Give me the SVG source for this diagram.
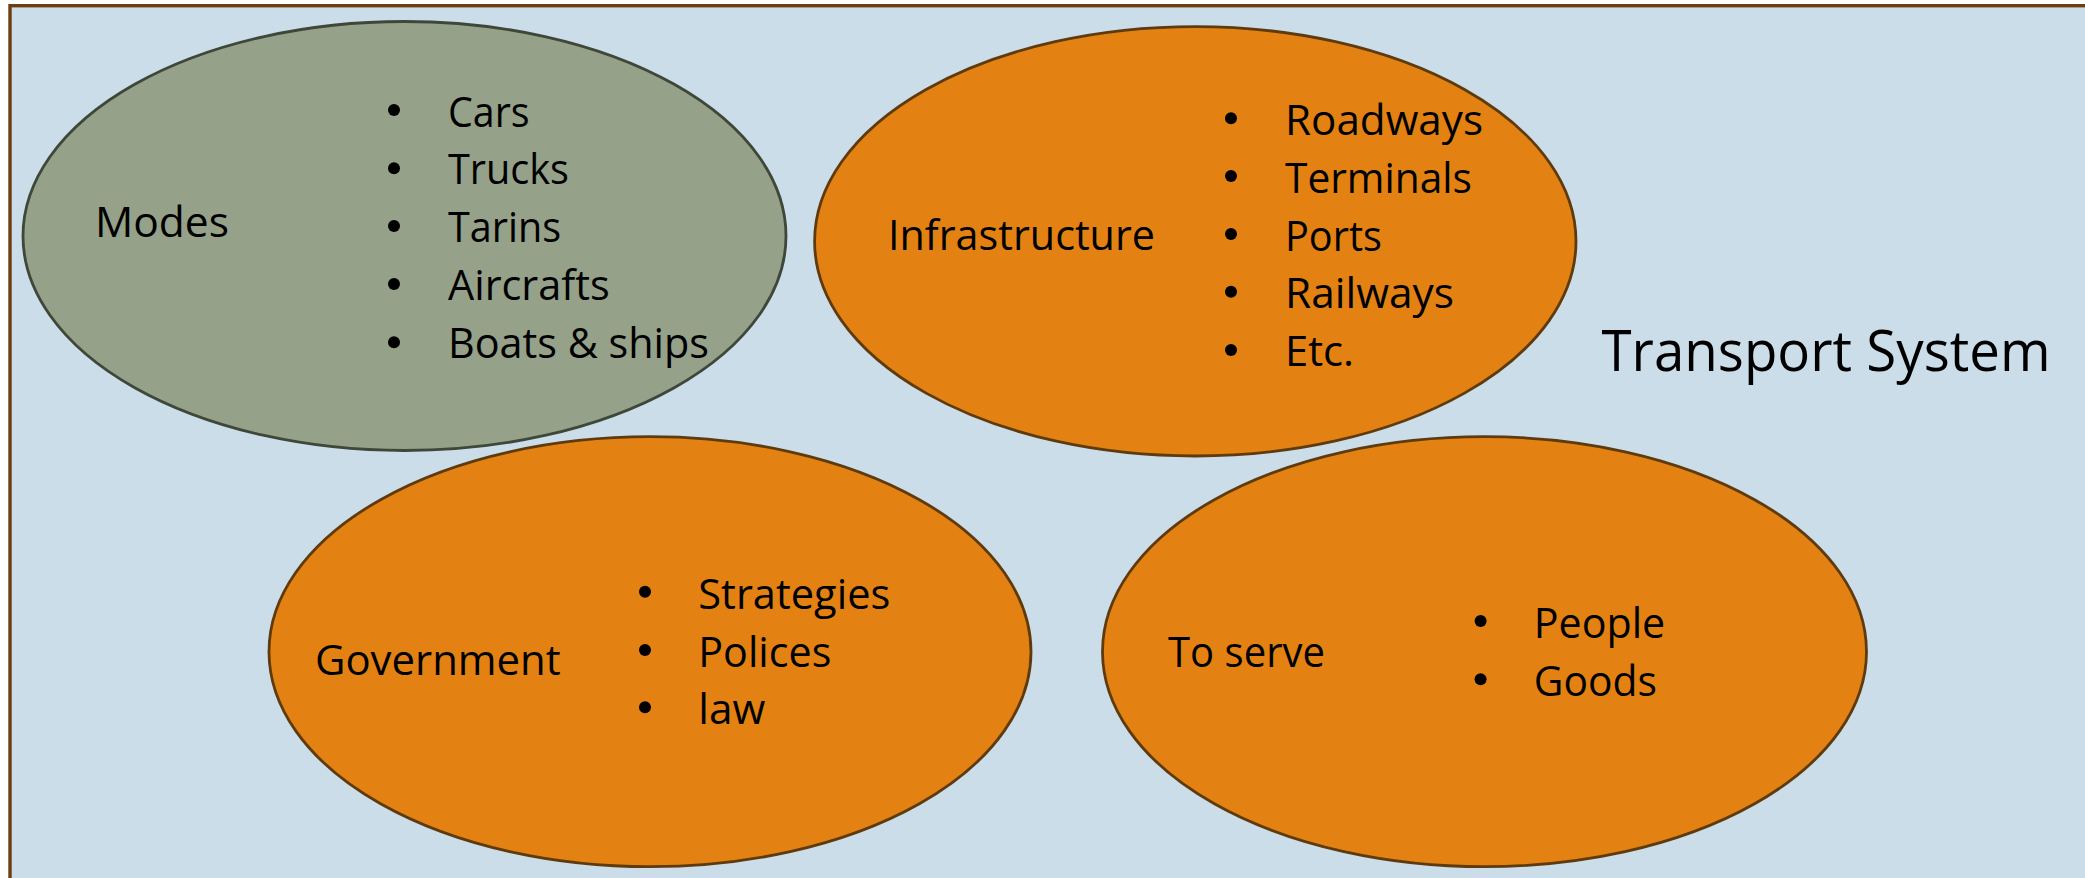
<svg xmlns="http://www.w3.org/2000/svg" width="2085" height="878" viewBox="0 0 2085 878">
<style>
.bg{fill:#CBDDE8;stroke:#6B3F12;stroke-width:3.4}
.orange{fill:#E38212;stroke:#5E3A0C;stroke-width:2.8}
.green{fill:#95A188;stroke:#3E4739;stroke-width:2.8}
text{font-family:"Open Sans","Noto Sans","Liberation Sans",sans-serif;fill:#000}
.t{font-size:42px}
.title{font-size:57px}
.dot{fill:#000}
</style>
<rect width="2085" height="878" fill="#FFFFFF"/>
<rect id="frame" class="bg" x="10" y="5.7" width="2100" height="900"/>
<g id="connectors"></g>
<g id="modes">
<ellipse class="green" cx="404.5" cy="236" rx="381.5" ry="214.5"/>
<text class="t" x="95" y="236.7" textLength="134" lengthAdjust="spacingAndGlyphs">Modes</text>
<circle class="dot" cx="394" cy="110" r="6"/>
<circle class="dot" cx="394" cy="168.3" r="6"/>
<circle class="dot" cx="394" cy="226" r="6"/>
<circle class="dot" cx="394" cy="284" r="6"/>
<circle class="dot" cx="394" cy="342.3" r="6"/>
<text class="t" x="448" y="126.7" textLength="81.6" lengthAdjust="spacingAndGlyphs">Cars</text>
<text class="t" x="448" y="184.3" textLength="121" lengthAdjust="spacingAndGlyphs">Trucks</text>
<text class="t" x="448" y="242.3" textLength="113" lengthAdjust="spacingAndGlyphs">Tarins</text>
<text class="t" x="448" y="300" textLength="161.7" lengthAdjust="spacingAndGlyphs">Aircrafts</text>
<text class="t" x="448" y="358.3" textLength="261" lengthAdjust="spacingAndGlyphs">Boats &amp; ships</text>
</g>
<g id="infrastructure">
<ellipse class="orange" cx="1195.3" cy="241.3" rx="380.7" ry="214.7"/>
<text class="t" x="888" y="250" textLength="267" lengthAdjust="spacingAndGlyphs">Infrastructure</text>
<circle class="dot" cx="1231" cy="118.3" r="6"/>
<circle class="dot" cx="1231" cy="176" r="6"/>
<circle class="dot" cx="1231" cy="234" r="6"/>
<circle class="dot" cx="1231" cy="291.7" r="6"/>
<circle class="dot" cx="1231" cy="350" r="6"/>
<text class="t" x="1285" y="135" textLength="198" lengthAdjust="spacingAndGlyphs">Roadways</text>
<text class="t" x="1285" y="192.7" textLength="187" lengthAdjust="spacingAndGlyphs">Terminals</text>
<text class="t" x="1285" y="250.7" textLength="97" lengthAdjust="spacingAndGlyphs">Ports</text>
<text class="t" x="1285" y="308.3" textLength="169" lengthAdjust="spacingAndGlyphs">Railways</text>
<text class="t" x="1285" y="366" textLength="69" lengthAdjust="spacingAndGlyphs">Etc.</text>
</g>
<g id="government">
<ellipse class="orange" cx="650" cy="651.7" rx="381" ry="215"/>
<text class="t" x="315" y="675" textLength="245.7" lengthAdjust="spacingAndGlyphs">Government</text>
<circle class="dot" cx="645" cy="591.7" r="6"/>
<circle class="dot" cx="645" cy="650" r="6"/>
<circle class="dot" cx="645" cy="707.3" r="6"/>
<text class="t" x="698.3" y="609.3" textLength="192" lengthAdjust="spacingAndGlyphs">Strategies</text>
<text class="t" x="698.3" y="666.7" textLength="133" lengthAdjust="spacingAndGlyphs">Polices</text>
<text class="t" x="698.3" y="724" textLength="67" lengthAdjust="spacingAndGlyphs">law</text>
</g>
<g id="toserve">
<ellipse class="orange" cx="1484.5" cy="651.7" rx="382" ry="215"/>
<text class="t" x="1168" y="667.3" textLength="157" lengthAdjust="spacingAndGlyphs">To serve</text>
<circle class="dot" cx="1480.6" cy="621" r="6"/>
<circle class="dot" cx="1480.6" cy="679.3" r="6"/>
<text class="t" x="1533.8" y="638.3" textLength="131.4" lengthAdjust="spacingAndGlyphs">People</text>
<text class="t" x="1533.8" y="696" textLength="123" lengthAdjust="spacingAndGlyphs">Goods</text>
</g>
<g id="title">
<text class="title" x="1601.5" y="370.7" textLength="449" lengthAdjust="spacingAndGlyphs">Transport System</text>
</g>
</svg>
